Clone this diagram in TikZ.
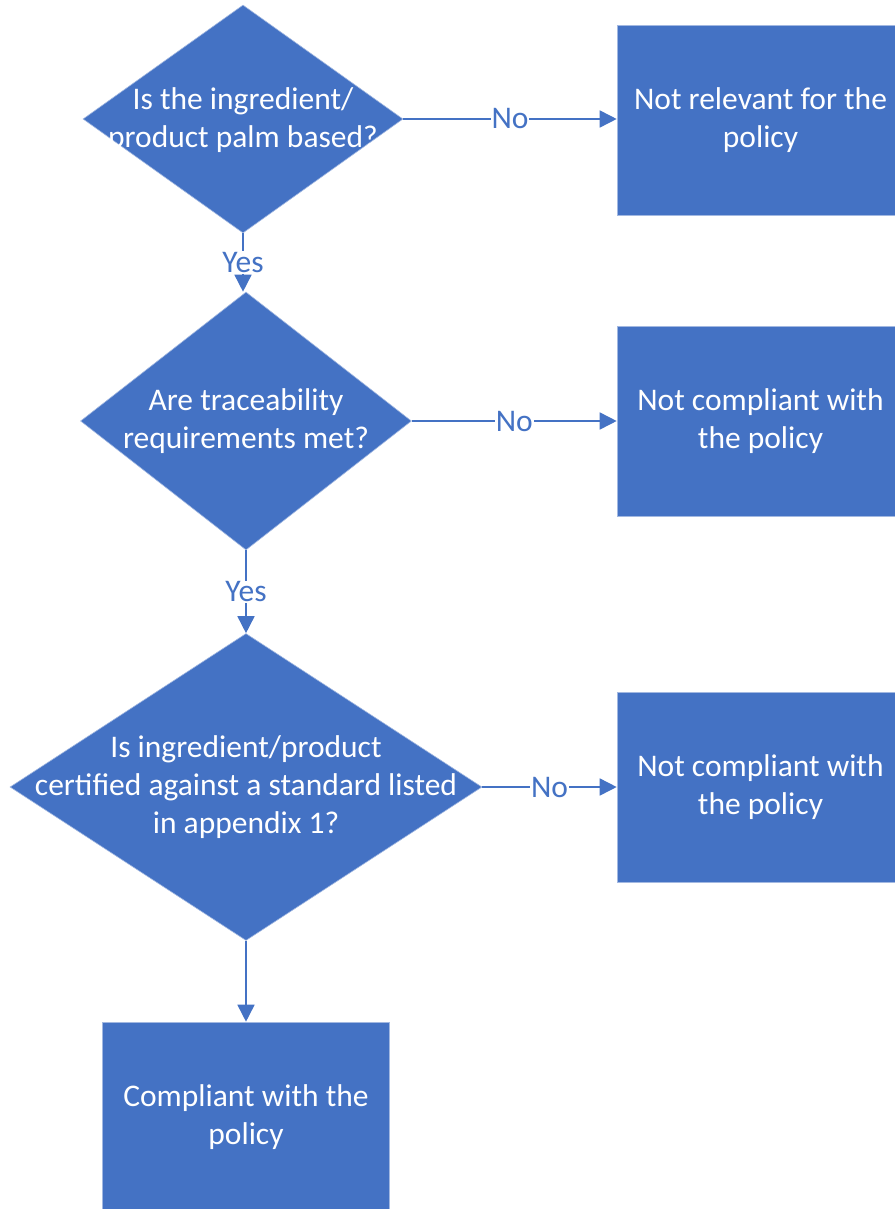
\documentclass[tikz,border=0pt]{standalone}
\usepackage{fontspec}
\setmainfont{Carlito}
\usetikzlibrary{shapes,arrows.meta}
\definecolor{officeblue}{HTML}{4472C4}
\newcommand{\flowfont}{\fontsize{31.5}{38}\selectfont}
\tikzstyle{decision}=[diamond, fill=officeblue, draw=officeblue!50!white, line width=.6pt, inner sep=0pt]
\tikzstyle{outcome}=[rectangle, fill=officeblue, draw=officeblue!50!white, line width=.6pt, minimum width=287pt, minimum height=190pt, text=white, align=center, font=\flowfont]
\tikzstyle{question}=[text=white, align=center, font=\flowfont]
\tikzstyle{flow}=[draw=officeblue, line width=1.6pt, -{Triangle[length=17pt,width=17pt]}]
\tikzstyle{answer}=[fill=white, text=officeblue, inner sep=1pt, font=\flowfont]

\begin{document}
\begin{tikzpicture}[x=1pt, y=-1pt]
  \useasboundingbox (0,0) rectangle (894,1209);
  %\draw [help lines, step=50] (0,0) grid (894,1209);
  \node[decision, minimum width=320pt, minimum height=228pt] (q1) at (243, 119) {};
  \node[question] (q1t) at (243, 120) {Is the ingredient/\\product palm based?};
  \node[decision, minimum width=331pt, minimum height=258pt] (q2) at (246, 421) {};
  \node[question] (q2t) at (246, 421) {Are traceability\\requirements met?};
  \node[decision, minimum width=472pt, minimum height=307pt] (q3) at (246, 787) {};
  \node[question] (q3t) at (246, 787) {Is ingredient/product\\certified against a standard listed\\in appendix 1?};

  \node[outcome] (r1) at (760.5, 120) {Not relevant for the\\policy};
  \node[outcome] (r2) at (760.5, 421) {Not compliant with\\the policy};
  \node[outcome] (r3) at (760.5, 787) {Not compliant with\\the policy};
  \node[outcome] (r4) at (246, 1117) {Compliant with the\\policy};

  \draw[flow] (q1) to [edge node={node [answer] {No}}] (r1.west |- q1);
  \draw[flow] (q2) to [edge node={node [answer] {No}}] (r2.west |- q2);
  \draw[flow] (q3) to [edge node={node [answer] {No}}] (r3.west |- q3);

  \draw[flow] (q1.south) to [edge node={node [answer] {Yes}}] (q1.south |- q2.north);
  \draw[flow] (q2) to [edge node={node [answer] {Yes}}] (q3);
  \draw[flow] (q3) to (r4);

\end{tikzpicture}
\end{document}
